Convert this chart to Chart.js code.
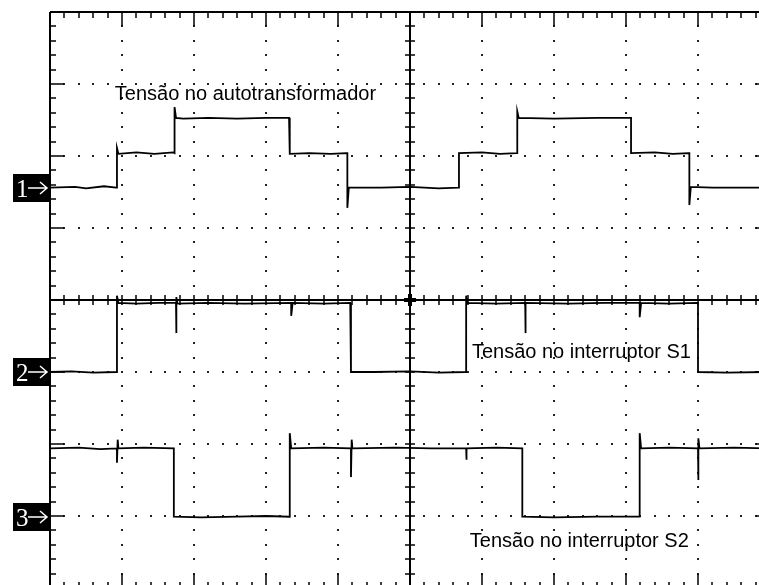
<!DOCTYPE html>
<html>
<head>
<meta charset="utf-8">
<script src="https://cdn.jsdelivr.net/npm/chart.js@4"></script>
<style>
  html, body { margin:0; padding:0; background:#fff; overflow:hidden; }
  #wrap { width:759px; height:585px; overflow:hidden; }
  canvas { display:block; }
</style>
</head>
<body>
<div id="wrap"><canvas id="scope" width="770" height="590"></canvas></div>
<script>
// screen is 10 x 8 divisions, 5 minor steps per division
const X_DIVS = 10, Y_DIVS = 8, MINOR = 5;

// channel ground levels (div from bottom)
const CH_LEVELS = [5.56, 3.0, 0.99];
const CH_NAMES  = ['1', '2', '3'];

// traces as [time (div), value (div)]
const CH1 = [
  [0,5.56],[0.35,5.57],[0.5,5.55],[0.75,5.58],[0.92,5.56],
  [0.93,5.56],[0.93,6.11],[0.95,6.03],[1.2,6.05],[1.45,6.03],[1.71,6.05],
  [1.73,6.04],[1.73,6.68],[1.75,6.53],[1.85,6.52],[2.2,6.53],[2.6,6.52],[3.0,6.53],[3.32,6.53],
  [3.33,6.53],[3.33,6.03],[3.6,6.04],[3.9,6.03],[4.12,6.04],
  [4.13,6.04],[4.13,5.28],[4.15,5.56],[4.6,5.56],[5.0,5.57],[5.4,5.55],[5.67,5.56],
  [5.68,5.56],[5.68,6.04],[6.0,6.05],[6.25,6.03],[6.48,6.04],
  [6.49,6.04],[6.49,6.62],[6.51,6.53],[7.0,6.52],[7.6,6.53],[8.06,6.53],
  [8.07,6.53],[8.07,6.04],[8.4,6.05],[8.65,6.03],[8.87,6.04],
  [8.88,6.04],[8.88,5.32],[8.9,5.57],[9.2,5.56],[9.95,5.56]
];
const CH2 = [
  [0,3.0],[0.3,3.01],[0.6,2.99],[0.92,3.0],
  [0.93,3.0],[0.93,4.06],[0.95,3.96],[1.2,3.95],[1.5,3.96],[1.75,3.96],
  [1.75,3.54],[1.76,4.04],[1.77,3.95],[2.2,3.96],[2.7,3.95],[3.35,3.96],
  [3.35,3.78],[3.37,3.96],[3.8,3.95],[4.17,3.96],
  [4.18,3.96],[4.18,3.0],[4.5,3.0],[5.0,3.01],[5.4,2.99],[5.77,3.0],
  [5.78,3.0],[5.78,4.06],[5.8,3.96],[6.2,3.95],[6.6,3.96],
  [6.6,3.54],[6.61,3.96],[7.2,3.95],[7.7,3.96],[8.19,3.96],
  [8.19,3.76],[8.21,3.96],[8.6,3.95],[8.99,3.96],
  [9.0,3.96],[9.0,3.0],[9.4,2.99],[9.95,3.0]
];
const CH3 = [
  [0,1.94],[0.4,1.95],[0.7,1.93],[0.93,1.94],
  [0.93,1.74],[0.94,2.06],[0.95,1.94],[1.3,1.95],[1.72,1.94],
  [1.72,0.99],[2.1,0.98],[2.6,0.99],[3.0,1.0],[3.33,0.99],
  [3.33,2.15],[3.35,1.94],[3.8,1.95],[4.18,1.94],
  [4.18,1.54],[4.19,2.06],[4.2,1.94],[4.8,1.95],[5.3,1.94],[5.78,1.94],
  [5.78,1.78],[5.79,1.94],[6.2,1.95],[6.56,1.94],
  [6.56,0.99],[7.0,0.98],[7.6,0.99],[8.19,0.99],
  [8.19,2.15],[8.21,1.94],[8.6,1.95],[9.0,1.94],
  [9.0,1.5],[9.01,2.08],[9.02,1.94],[9.5,1.95],[9.95,1.94]
];

// annotation text and where it sits (div)
const LABELS = [
  { text:'Tensão no autotransformador', x:0.90, y:6.78 },
  { text:'Tensão no interruptor S1',    x:5.86, y:3.19 },
  { text:'Tensão no interruptor S2',    x:5.83, y:0.57 },
];

const graticule = {
  id: 'graticule',
  beforeDatasetsDraw(chart) {
    const { ctx, scales:{ x, y } } = chart;
    const px = v => Math.round(x.getPixelForValue(v));
    const py = v => Math.round(y.getPixelForValue(v));
    ctx.save();
    ctx.fillStyle = '#222';
    // dotted division lines
    for (let i = 1; i < X_DIVS; i++) {
      if (i === X_DIVS/2) continue;
      for (let k = 0; k <= Y_DIVS*MINOR; k++) ctx.fillRect(px(i)-1, py(k/MINOR)-1, 2, 2);
    }
    for (let j = 1; j < Y_DIVS; j++) {
      if (j === Y_DIVS/2) continue;
      for (let k = 0; k <= X_DIVS*MINOR; k++) ctx.fillRect(px(k/MINOR)-1, py(j)-1, 2, 2);
    }

    ctx.strokeStyle = '#000';
    const line = (x1, y1, x2, y2) => { ctx.beginPath(); ctx.moveTo(x1, y1); ctx.lineTo(x2, y2); ctx.stroke(); };
    const L = px(0), R = px(X_DIVS), T = py(Y_DIVS), B = py(0);
    const cx = px(X_DIVS/2), cy = py(Y_DIVS/2);

    // frame and centre axes
    ctx.lineWidth = 2;
    line(L, T, R, T); line(L, B, R, B); line(L, T, L, B); line(R, T, R, B);
    line(L, cy, R, cy); line(cx, T, cx, B);

    // minor/major ticks
    ctx.lineWidth = 1.5;
    for (let k = 1; k < X_DIVS*MINOR; k++) {
      const xx = px(k/MINOR), len = k % MINOR === 0 ? 14 : 6;
      line(xx, T, xx, T+len);
      line(xx, B, xx, B-len);
      line(xx, cy-5, xx, cy+5);
    }
    for (let k = 1; k < Y_DIVS*MINOR; k++) {
      const yy = py(k/MINOR), len = k % MINOR === 0 ? 14 : 6;
      line(L, yy, L+len, yy);
      line(R, yy, R-len, yy);
      line(cx-5, yy, cx+5, yy);
    }
    ctx.lineWidth = 4;
    line(cx-6, cy, cx+6, cy); line(cx, cy-6, cx, cy+6);
    ctx.restore();
  },
  afterDraw(chart) {
    const { ctx, scales:{ x, y }, chartArea } = chart;
    ctx.save();
    // captions, drawn straight over the graticule
    ctx.fillStyle = '#000';
    ctx.font = '20px "Liberation Sans", Arial, sans-serif';
    ctx.textBaseline = 'alphabetic';
    LABELS.forEach(l => {
      ctx.fillText(l.text, x.getPixelForValue(l.x), y.getPixelForValue(l.y));
    });

    // channel ground markers
    CH_LEVELS.forEach((lvl, i) => {
      const my = Math.round(y.getPixelForValue(lvl));
      const bx = chartArea.left - 37;
      ctx.fillStyle = '#000';
      ctx.fillRect(bx, my-14, 36, 28);
      ctx.fillStyle = '#fff';
      ctx.font = '25px "Liberation Serif", serif';
      ctx.fillText(CH_NAMES[i], bx+3, my+9);
      ctx.strokeStyle = '#fff';
      ctx.lineWidth = 1.5;
      ctx.beginPath();
      ctx.moveTo(bx+15, my); ctx.lineTo(bx+34, my);
      ctx.moveTo(bx+27, my-6); ctx.lineTo(bx+34, my); ctx.lineTo(bx+27, my+6);
      ctx.stroke();
    });
    ctx.restore();
  }
};

const toPts = arr => arr.map(([t, v]) => ({ x:t, y:v }));
const trace = data => ({
  data: toPts(data), showLine:true, borderColor:'#000', borderWidth:1.8,
  pointRadius:0, tension:0, fill:false,
});

new Chart(document.getElementById('scope'), {
  type: 'scatter',
  data: { datasets: [trace(CH1), trace(CH2), trace(CH3)] },
  options: {
    responsive:false, animation:false,
    layout:{ padding:{ left:50, top:12, right:0, bottom:2 } },
    plugins:{ legend:{ display:false }, tooltip:{ enabled:false } },
    scales:{
      x:{ type:'linear', min:0, max:X_DIVS, display:false },
      y:{ type:'linear', min:0, max:Y_DIVS, display:false },
    },
  },
  plugins:[graticule],
});
</script>
</body>
</html>
